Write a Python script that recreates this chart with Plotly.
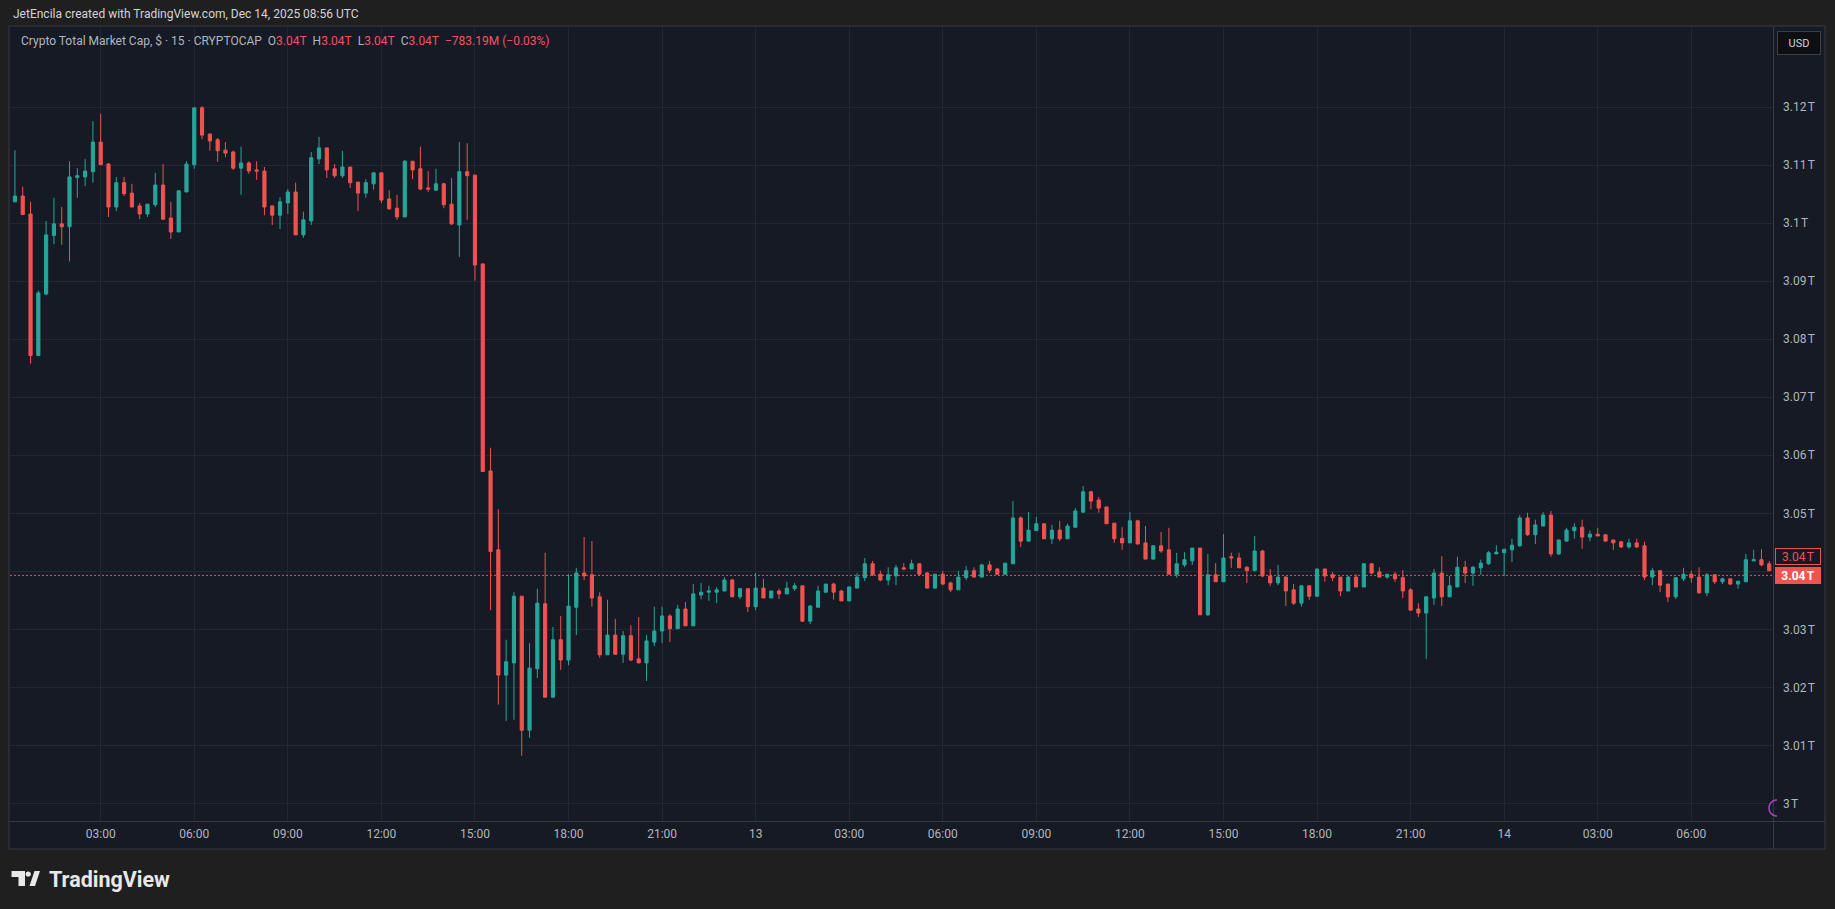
import numpy as np
import pandas as pd
import plotly.graph_objects as go

# --- 15 minute candles, Crypto Total Market Cap (trillions USD) ---
# one row = 12 candles = 3 hours, first candle is Dec 12 00:15 UTC
opens = [
    3.1037, 3.1047, 3.1016, 3.0772, 3.0878, 3.0979, 3.0999, 3.0994, 3.1079, 3.1080, 3.1089, 3.1140,
    3.1102, 3.1028, 3.1070, 3.1052, 3.1030, 3.1016, 3.1032, 3.1066, 3.1009, 3.0985, 3.1054, 3.1101,
    3.1199, 3.1154, 3.1144, 3.1126, 3.1123, 3.1095, 3.1104, 3.1092, 3.1090, 3.1030, 3.1014, 3.1035,
    3.1054, 3.0980, 3.1004, 3.1111, 3.1130, 3.1094, 3.1082, 3.1097, 3.1071, 3.1052, 3.1068, 3.1087,
    3.1042, 3.1026, 3.1011, 3.1107, 3.1094, 3.1061, 3.1057, 3.1068, 3.1033, 3.0997, 3.1089, 3.1083,
    3.0930, 3.0573, 3.0437, 3.0221, 3.0242, 3.0357, 3.0126, 3.0232, 3.0344, 3.0183, 3.0282, 3.0247,
    3.0338, 3.0397, 3.0394, 3.0356, 3.0256, 3.0290, 3.0257, 3.0289, 3.0249, 3.0242, 3.0278, 3.0297,
    3.0323, 3.0301, 3.0335, 3.0306, 3.0359, 3.0364, 3.0364, 3.0366, 3.0385, 3.0356, 3.0370, 3.0339,
    3.0371, 3.0354, 3.0366, 3.0361, 3.0370, 3.0375, 3.0314, 3.0338, 3.0364, 3.0378, 3.0366, 3.0349,
    3.0371, 3.0389, 3.0413, 3.0395, 3.0385, 3.0392, 3.0406, 3.0404, 3.0413, 3.0397, 3.0371, 3.0395,
    3.0380, 3.0368, 3.0389, 3.0401, 3.0390, 3.0411, 3.0404, 3.0395, 3.0413, 3.0492, 3.0452, 3.0470,
    3.0482, 3.0456, 3.0471, 3.0456, 3.0476, 3.0502, 3.0537, 3.0523, 3.0511, 3.0483, 3.0457, 3.0449,
    3.0487, 3.0449, 3.0421, 3.0444, 3.0437, 3.0395, 3.0411, 3.0418, 3.0440, 3.0325, 3.0394, 3.0382,
    3.0425, 3.0423, 3.0407, 3.0401, 3.0435, 3.0392, 3.0380, 3.0390, 3.0368, 3.0345, 3.0375, 3.0357,
    3.0404, 3.0394, 3.0390, 3.0366, 3.0390, 3.0373, 3.0413, 3.0399, 3.0390, 3.0395, 3.0389, 3.0368,
    3.0335, 3.0328, 3.0354, 3.0397, 3.0356, 3.0373, 3.0407, 3.0397, 3.0406, 3.0413, 3.0430, 3.0432,
    3.0437, 3.0444, 3.0492, 3.0463, 3.0478, 3.0497, 3.0430, 3.0452, 3.0470, 3.0476, 3.0459, 3.0464,
    3.0463, 3.0454, 3.0451, 3.0442, 3.0449, 3.0444, 3.0390, 3.0401, 3.0378, 3.0356, 3.0387, 3.0395,
    3.0390, 3.0363, 3.0394, 3.0382, 3.0387, 3.0378, 3.0382, 3.0418, 3.0420, 3.0413, 3.0401,
]
highs = [
    3.1126, 3.1063, 3.1037, 3.0884, 3.1004, 3.1044, 3.1028, 3.1107, 3.1095, 3.1111, 3.1176, 3.1189,
    3.1104, 3.1080, 3.1080, 3.1068, 3.1035, 3.1033, 3.1087, 3.1102, 3.1037, 3.1057, 3.1107, 3.1199,
    3.1202, 3.1154, 3.1147, 3.1140, 3.1125, 3.1132, 3.1107, 3.1107, 3.1097, 3.1030, 3.1045, 3.1059,
    3.1070, 3.1020, 3.1123, 3.1149, 3.1130, 3.1102, 3.1125, 3.1097, 3.1071, 3.1076, 3.1087, 3.1087,
    3.1057, 3.1049, 3.1109, 3.1107, 3.1132, 3.1090, 3.1094, 3.1070, 3.1078, 3.1140, 3.1138, 3.1083,
    3.0930, 3.0613, 3.0507, 3.0282, 3.0364, 3.0357, 3.0276, 3.0370, 3.0432, 3.0304, 3.0323, 3.0395,
    3.0406, 3.0459, 3.0452, 3.0364, 3.0351, 3.0318, 3.0297, 3.0307, 3.0321, 3.0290, 3.0339, 3.0339,
    3.0326, 3.0342, 3.0347, 3.0378, 3.0380, 3.0375, 3.0373, 3.0390, 3.0387, 3.0371, 3.0370, 3.0397,
    3.0387, 3.0366, 3.0370, 3.0382, 3.0380, 3.0375, 3.0342, 3.0375, 3.0378, 3.0380, 3.0368, 3.0373,
    3.0397, 3.0423, 3.0418, 3.0401, 3.0407, 3.0411, 3.0414, 3.0420, 3.0414, 3.0399, 3.0395, 3.0401,
    3.0382, 3.0401, 3.0409, 3.0407, 3.0413, 3.0418, 3.0406, 3.0414, 3.0521, 3.0495, 3.0502, 3.0494,
    3.0482, 3.0480, 3.0487, 3.0482, 3.0509, 3.0547, 3.0539, 3.0528, 3.0511, 3.0483, 3.0476, 3.0502,
    3.0489, 3.0478, 3.0445, 3.0468, 3.0475, 3.0432, 3.0433, 3.0440, 3.0440, 3.0430, 3.0414, 3.0464,
    3.0432, 3.0432, 3.0409, 3.0461, 3.0437, 3.0404, 3.0411, 3.0392, 3.0378, 3.0376, 3.0376, 3.0404,
    3.0404, 3.0399, 3.0390, 3.0392, 3.0395, 3.0414, 3.0414, 3.0407, 3.0395, 3.0399, 3.0402, 3.0371,
    3.0345, 3.0357, 3.0404, 3.0426, 3.0392, 3.0425, 3.0418, 3.0409, 3.0420, 3.0435, 3.0445, 3.0438,
    3.0456, 3.0497, 3.0501, 3.0489, 3.0502, 3.0504, 3.0454, 3.0475, 3.0483, 3.0489, 3.0470, 3.0475,
    3.0464, 3.0454, 3.0451, 3.0456, 3.0456, 3.0451, 3.0406, 3.0401, 3.0378, 3.0389, 3.0406, 3.0401,
    3.0407, 3.0397, 3.0395, 3.0389, 3.0387, 3.0383, 3.0430, 3.0437, 3.0438, 3.0418, 3.0404,
]
lows = [
    3.1037, 3.1015, 3.0758, 3.0772, 3.0876, 3.0964, 3.0963, 3.0934, 3.1044, 3.1064, 3.1070, 3.1101,
    3.1011, 3.1021, 3.1047, 3.1028, 3.1007, 3.1011, 3.1028, 3.1007, 3.0973, 3.0985, 3.1054, 3.1094,
    3.1145, 3.1125, 3.1106, 3.1114, 3.1092, 3.1049, 3.1085, 3.1075, 3.1014, 3.0997, 3.0990, 3.1016,
    3.0980, 3.0975, 3.0997, 3.1102, 3.1078, 3.1078, 3.1078, 3.1061, 3.1021, 3.1044, 3.1058, 3.1035,
    3.1023, 3.1006, 3.1011, 3.1076, 3.1057, 3.1054, 3.1057, 3.1026, 3.0997, 3.0942, 3.1006, 3.0901,
    3.0572, 3.0333, 3.0170, 3.0142, 3.0144, 3.0082, 3.0113, 3.0216, 3.0183, 3.0183, 3.0230, 3.0238,
    3.0290, 3.0385, 3.0339, 3.0251, 3.0256, 3.0256, 3.0242, 3.0245, 3.0242, 3.0211, 3.0271, 3.0276,
    3.0278, 3.0301, 3.0306, 3.0306, 3.0352, 3.0349, 3.0345, 3.0366, 3.0356, 3.0352, 3.0330, 3.0333,
    3.0354, 3.0354, 3.0352, 3.0361, 3.0366, 3.0313, 3.0309, 3.0338, 3.0364, 3.0351, 3.0349, 3.0349,
    3.0371, 3.0383, 3.0392, 3.0383, 3.0376, 3.0376, 3.0402, 3.0404, 3.0392, 3.0371, 3.0370, 3.0376,
    3.0364, 3.0368, 3.0385, 3.0390, 3.0390, 3.0397, 3.0395, 3.0395, 3.0413, 3.0442, 3.0452, 3.0470,
    3.0456, 3.0447, 3.0452, 3.0456, 3.0476, 3.0501, 3.0507, 3.0501, 3.0482, 3.0449, 3.0437, 3.0449,
    3.0447, 3.0421, 3.0420, 3.0432, 3.0395, 3.0389, 3.0407, 3.0411, 3.0325, 3.0323, 3.0382, 3.0382,
    3.0406, 3.0406, 3.0380, 3.0401, 3.0390, 3.0375, 3.0376, 3.0340, 3.0342, 3.0339, 3.0351, 3.0356,
    3.0382, 3.0383, 3.0357, 3.0366, 3.0373, 3.0373, 3.0395, 3.0390, 3.0387, 3.0382, 3.0354, 3.0333,
    3.0321, 3.0249, 3.0342, 3.0340, 3.0356, 3.0373, 3.0380, 3.0375, 3.0394, 3.0411, 3.0430, 3.0392,
    3.0416, 3.0442, 3.0461, 3.0447, 3.0478, 3.0425, 3.0428, 3.0452, 3.0456, 3.0439, 3.0452, 3.0461,
    3.0452, 3.0437, 3.0440, 3.0439, 3.0440, 3.0385, 3.0376, 3.0364, 3.0347, 3.0352, 3.0383, 3.0380,
    3.0361, 3.0357, 3.0378, 3.0378, 3.0376, 3.0370, 3.0382, 3.0418, 3.0409, 3.0401, 3.0392,
]
closes = [
    3.1047, 3.1015, 3.0772, 3.0880, 3.0980, 3.0999, 3.0994, 3.1080, 3.1082, 3.1090, 3.1140, 3.1101,
    3.1028, 3.1070, 3.1051, 3.1028, 3.1016, 3.1033, 3.1066, 3.1007, 3.0985, 3.1056, 3.1102, 3.1199,
    3.1152, 3.1142, 3.1125, 3.1121, 3.1095, 3.1104, 3.1090, 3.1090, 3.1028, 3.1014, 3.1037, 3.1054,
    3.0980, 3.1006, 3.1113, 3.1130, 3.1092, 3.1082, 3.1097, 3.1070, 3.1052, 3.1070, 3.1087, 3.1040,
    3.1025, 3.1011, 3.1107, 3.1092, 3.1059, 3.1059, 3.1068, 3.1032, 3.0999, 3.1089, 3.1082, 3.0928,
    3.0572, 3.0434, 3.0221, 3.0244, 3.0357, 3.0126, 3.0233, 3.0345, 3.0183, 3.0282, 3.0247, 3.0340,
    3.0397, 3.0392, 3.0354, 3.0256, 3.0290, 3.0257, 3.0289, 3.0247, 3.0242, 3.0280, 3.0297, 3.0323,
    3.0301, 3.0335, 3.0306, 3.0361, 3.0364, 3.0366, 3.0368, 3.0385, 3.0356, 3.0370, 3.0339, 3.0371,
    3.0354, 3.0366, 3.0361, 3.0371, 3.0375, 3.0314, 3.0340, 3.0366, 3.0378, 3.0364, 3.0349, 3.0373,
    3.0390, 3.0413, 3.0394, 3.0385, 3.0394, 3.0406, 3.0404, 3.0413, 3.0395, 3.0371, 3.0395, 3.0378,
    3.0368, 3.0390, 3.0401, 3.0390, 3.0411, 3.0402, 3.0395, 3.0414, 3.0492, 3.0452, 3.0471, 3.0482,
    3.0456, 3.0471, 3.0456, 3.0478, 3.0504, 3.0537, 3.0521, 3.0509, 3.0482, 3.0456, 3.0449, 3.0487,
    3.0447, 3.0421, 3.0444, 3.0435, 3.0395, 3.0413, 3.0420, 3.0440, 3.0325, 3.0394, 3.0382, 3.0423,
    3.0423, 3.0406, 3.0401, 3.0435, 3.0392, 3.0380, 3.0390, 3.0366, 3.0345, 3.0375, 3.0357, 3.0404,
    3.0392, 3.0389, 3.0366, 3.0390, 3.0373, 3.0413, 3.0397, 3.0390, 3.0395, 3.0387, 3.0366, 3.0333,
    3.0328, 3.0356, 3.0397, 3.0356, 3.0375, 3.0407, 3.0397, 3.0407, 3.0414, 3.0432, 3.0433, 3.0438,
    3.0445, 3.0492, 3.0463, 3.0480, 3.0497, 3.0430, 3.0454, 3.0471, 3.0476, 3.0459, 3.0464, 3.0461,
    3.0452, 3.0449, 3.0442, 3.0449, 3.0442, 3.0390, 3.0401, 3.0376, 3.0356, 3.0389, 3.0395, 3.0389,
    3.0363, 3.0394, 3.0382, 3.0387, 3.0378, 3.0383, 3.0420, 3.0420, 3.0411, 3.0401, 3.0393,
]

times = pd.date_range("2025-12-12 00:15", periods=len(opens), freq="15min")

tick_times = [
    "2025-12-12 03:00", "2025-12-12 06:00", "2025-12-12 09:00", "2025-12-12 12:00",
    "2025-12-12 15:00", "2025-12-12 18:00", "2025-12-12 21:00", "2025-12-13 00:00",
    "2025-12-13 03:00", "2025-12-13 06:00", "2025-12-13 09:00", "2025-12-13 12:00",
    "2025-12-13 15:00", "2025-12-13 18:00", "2025-12-13 21:00", "2025-12-14 00:00",
    "2025-12-14 03:00", "2025-12-14 06:00",
]
tick_text = ["03:00", "06:00", "09:00", "12:00", "15:00", "18:00", "21:00", "13",
             "03:00", "06:00", "09:00", "12:00", "15:00", "18:00", "21:00", "14",
             "03:00", "06:00"]

price_ticks = [3.00, 3.01, 3.02, 3.03, 3.04, 3.05, 3.06, 3.07, 3.08, 3.09, 3.10, 3.11, 3.12]
# the 3.04 tick sits under the price labels, so it shows no text
price_text = ["3\u202fT", "3.01\u202fT", "3.02\u202fT", "3.03\u202fT", "", "3.05\u202fT",
              "3.06\u202fT", "3.07\u202fT", "3.08\u202fT", "3.09\u202fT", "3.1\u202fT", "3.11\u202fT",
              "3.12\u202fT"]

high_label_price = 3.0425   # outlined label on the price scale

# --- colours ---
UP = "#26A69A"
DOWN = "#EF5350"
BG = "#161A25"
OUTER = "#1F1F1F"
GRID = "#232733"
TEXT = "#B2B5BE"
BORDER = "#363A45"

# the page body has an 8px margin on every side, so the figure is smaller
# and all positions below are given in page pixels
OFF = 8
W, H = 1835 - 2 * OFF, 909 - 2 * OFF
PL, PR, PT, PB = 10, 1773, 27, 821   # plot area in page pixels


def px(x):
    return (x - PL) / (PR - PL)


def py(y):
    return (PB - y) / (PB - PT)


fig = go.Figure()

fig.add_trace(go.Candlestick(
    x=times, open=opens, high=highs, low=lows, close=closes,
    increasing=dict(line=dict(color=UP, width=1), fillcolor=UP),
    decreasing=dict(line=dict(color=DOWN, width=1), fillcolor=DOWN),
    hoverinfo="skip",
))

x_start = times[0] - pd.Timedelta(minutes=15 * 0.633)
x_end = times[0] + pd.Timedelta(minutes=15 * 225.48)

# box around the whole chart, separators for the two scales
shapes = [
    dict(type="rect", xref="paper", yref="paper", x0=px(9), x1=px(1825), y0=py(849), y1=py(26),
         fillcolor=BG, line=dict(color=BORDER, width=1), layer="below"),
    dict(type="line", xref="paper", yref="paper", x0=px(1773.5), x1=px(1773.5), y0=py(849), y1=py(26),
         line=dict(color=BORDER, width=1)),
    dict(type="line", xref="paper", yref="paper", x0=px(9), x1=px(1825), y0=py(821.5), y1=py(821.5),
         line=dict(color=BORDER, width=1)),
    # last price line
    dict(type="line", xref="x domain", yref="y", x0=0, x1=1, y0=closes[-1], y1=closes[-1],
         line=dict(color=DOWN, width=1, dash="2px,2px")),
]

# TradingView logo mark
logo_t = [(11.5, 871), (25, 871), (25, 886), (18.5, 886), (18.5, 877), (11.5, 877)]
logo_slash = [(29.5, 886), (34.5, 871), (40, 871), (35, 886)]
for poly in (logo_t, logo_slash):
    path = "M " + " L ".join(f"{px(a):.6f},{py(b):.6f}" for a, b in poly) + " Z"
    shapes.append(dict(type="path", xref="paper", yref="paper", path=path,
                       fillcolor="#E8E8E8", line=dict(width=0)))
shapes.append(dict(type="circle", xref="paper", yref="paper",
                   x0=px(25.6), x1=px(30.8), y0=py(876.6), y1=py(871.4),
                   fillcolor="#E8E8E8", line=dict(width=0)))

# small purple half circle near the bottom of the price scale
ang = np.linspace(np.pi / 2, 3 * np.pi / 2, 20)
arc = [(1777 + 8 * np.cos(a), 808 - 8 * np.sin(a)) for a in ang]
shapes.append(dict(type="path", xref="paper", yref="paper",
                   path="M " + " L ".join(f"{px(a):.6f},{py(b):.6f}" for a, b in arc),
                   line=dict(color="#AB47BC", width=1.5)))

red = "#F7525F"
legend_text = (
    f"<span style='color:{TEXT}'>Crypto Total Market Cap, $ · 15 · CRYPTOCAP</span>&nbsp;&nbsp;"
    f"<span style='color:{TEXT}'>O</span><span style='color:{red}'>3.04T</span>&nbsp;&nbsp;"
    f"<span style='color:{TEXT}'>H</span><span style='color:{red}'>3.04T</span>&nbsp;&nbsp;"
    f"<span style='color:{TEXT}'>L</span><span style='color:{red}'>3.04T</span>&nbsp;&nbsp;"
    f"<span style='color:{TEXT}'>C</span><span style='color:{red}'>3.04T</span>&nbsp;&nbsp;"
    f"<span style='color:{red}'>−783.19M (−0.03%)</span>"
)

annotations = [
    dict(xref="paper", yref="paper", x=px(11), y=py(14), xanchor="left", yanchor="middle",
         text="JetEncila created with TradingView.com, Dec 14, 2025 08:56 UTC",
         showarrow=False, font=dict(size=12, color="#D1D4DC")),
    dict(xref="paper", yref="paper", x=px(19), y=py(41), xanchor="left", yanchor="middle",
         text=legend_text, showarrow=False, font=dict(size=12, color=TEXT)),
    dict(xref="paper", yref="paper", x=px(1799), y=py(43), xanchor="center", yanchor="middle",
         text="USD", showarrow=False, font=dict(size=11, color="#D1D4DC"),
         bgcolor="#0E0F13", bordercolor="#3A3D45", borderwidth=1, width=40, height=20),
    dict(xref="paper", yref="y", x=px(1775), y=high_label_price, xanchor="left", yanchor="middle",
         text="3.04\u202fT", showarrow=False, font=dict(size=12, color=DOWN),
         bgcolor=BG, bordercolor=DOWN, borderwidth=1, width=42, height=13),
    dict(xref="paper", yref="y", x=px(1775), y=closes[-1], xanchor="left", yanchor="middle",
         text="<b>3.04\u202fT</b>", showarrow=False, font=dict(size=12, color="#FFFFFF"),
         bgcolor="#F05350", borderwidth=0, width=44, height=15),
    dict(xref="paper", yref="paper", x=px(47), y=py(879), xanchor="left", yanchor="middle",
         text="<b>TradingView</b>", showarrow=False, font=dict(size=21.5, color="#E8E8E8")),
]

fig.update_layout(
    width=W, height=H,
    margin=dict(l=PL - OFF, r=W - (PR - OFF), t=PT - OFF, b=H - (PB - OFF), autoexpand=False),
    paper_bgcolor=OUTER, plot_bgcolor=BG,
    font=dict(family="Roboto, Liberation Sans, sans-serif", color=TEXT, size=12),
    showlegend=False,
    boxgap=0.42,
    shapes=shapes,
    annotations=annotations,
    xaxis=dict(
        type="date", range=[x_start, x_end],
        rangeslider=dict(visible=False),
        tickvals=tick_times, ticktext=tick_text,
        showgrid=True, gridcolor=GRID, gridwidth=1,
        zeroline=False, showline=False, ticks="",
        ticklabelstandoff=4,
        tickfont=dict(size=12, color=TEXT),
    ),
    yaxis=dict(
        side="right", range=[2.99695, 3.13384],
        tickvals=price_ticks, ticktext=price_text,
        showgrid=True, gridcolor=GRID, gridwidth=1,
        zeroline=False, showline=False, ticks="",
        ticklabelstandoff=9,
        tickfont=dict(size=12, color=TEXT),
    ),
)

# dark page around the figure instead of the default white body
fig.write_html("out.html",
               post_script=f"document.body.style.background='{OUTER}';"
                           "document.body.style.overflow='hidden';")
